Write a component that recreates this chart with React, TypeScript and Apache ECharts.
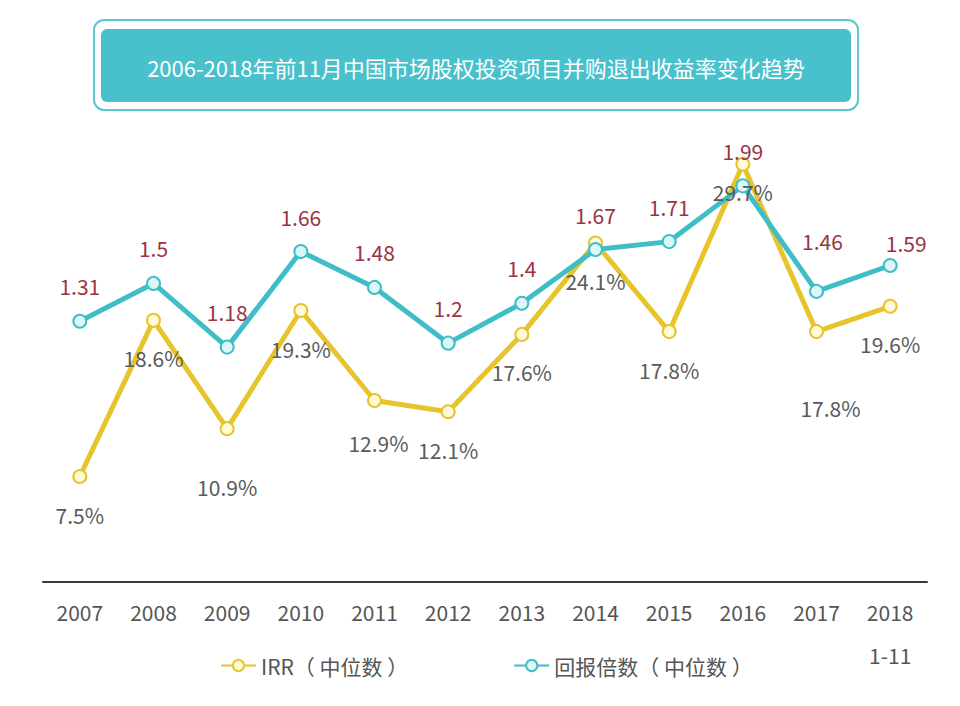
import React, { useEffect, useRef } from "react";
import * as echarts from "echarts";

const years = ["2007", "2008", "2009", "2010", "2011", "2012", "2013", "2014", "2015", "2016", "2017", "2018\n1-11"];
const irrValues = [7.5, 18.6, 10.9, 19.3, 12.9, 12.1, 17.6, 24.1, 17.8, 29.7, 17.8, 19.6];
const multipleValues = [1.31, 1.5, 1.18, 1.66, 1.48, 1.2, 1.4, 1.67, 1.71, 1.99, 1.46, 1.59];
const titleText = "2006-2018年前11月中国市场股权投资项目并购退出收益率变化趋势";
const irrName = "IRR（ 中位数 ）";
const multipleName = "回报倍数（ 中位数 ）";

const YELLOW = "#E8C42C";
const TEAL = "#3FBEC7";
const FONT = "'Noto Sans CJK SC', 'Noto Sans', sans-serif";

export default function App() {
  const ref = useRef<HTMLDivElement>(null);
  useEffect(() => {
    if (!ref.current) return;
    const chart = echarts.init(ref.current, undefined, { renderer: "svg" });
    const irrOffsets: Record<number, number[]> = { 2: [0, 20], 4: [4, 4], 9: [0, -10], 10: [14, 38] };
    const mulOffsets: Record<number, number[]> = { 10: [6, -15], 11: [16, 12] };
    chart.setOption({
      animation: false,
      backgroundColor: "#ffffff",
      textStyle: { fontFamily: FONT },
      graphic: [
        {
          type: "rect",
          shape: { x: 94, y: 20, width: 764, height: 90, r: 10 },
          style: { fill: "#ffffff", stroke: "#5CC7CF", lineWidth: 2 },
        },
        {
          type: "rect",
          shape: { x: 101, y: 29, width: 750, height: 73, r: 6 },
          style: { fill: "#48C1CC" },
        },
        {
          type: "text",
          x: 476,
          y: 67,
          style: {
            text: titleText,
            fill: "#ffffff",
            fontSize: 22,
            fontFamily: FONT,
            align: "center",
            verticalAlign: "middle",
          },
        },
      ],
      legend: {
        left: 215,
        top: 650,
        itemWidth: 35,
        itemHeight: 14,
        itemGap: 105,
        textStyle: { fontSize: 21, color: "#555555", fontFamily: FONT },
        data: [irrName, multipleName],
      },
      grid: { left: 43, right: 33, top: 160, bottom: 124 },
      xAxis: {
        type: "category",
        data: years,
        boundaryGap: true,
        axisLine: { lineStyle: { color: "#3a3a3a", width: 2 } },
        axisTick: { show: false },
        axisLabel: {
          color: "#555555",
          fontSize: 21,
          lineHeight: 43,
          margin: 8,
          fontFamily: FONT,
        },
      },
      yAxis: [
        { type: "value", min: 0, max: 30, show: false, splitLine: { show: false } },
        { type: "value", min: 0, max: 2.12, show: false, splitLine: { show: false } },
      ],
      series: [
        {
          name: irrName,
          type: "line",
          yAxisIndex: 0,
          data: irrValues.map((v, i) => ({
            value: v,
            label: irrOffsets[i] ? { offset: irrOffsets[i] } : undefined,
          })),
          symbol: "circle",
          symbolSize: 13,
          lineStyle: { color: YELLOW, width: 5 },
          itemStyle: { color: "#FFFBD8", borderColor: YELLOW, borderWidth: 2 },
          label: {
            show: true,
            position: "bottom",
            distance: 20,
            formatter: "{c}%",
            color: "#5a5a5a",
            fontSize: 21,
            fontFamily: FONT,
          },
        },
        {
          name: multipleName,
          type: "line",
          yAxisIndex: 1,
          data: multipleValues.map((v, i) => ({
            value: v,
            label: mulOffsets[i] ? { offset: mulOffsets[i] } : undefined,
          })),
          symbol: "circle",
          symbolSize: 13,
          lineStyle: { color: TEAL, width: 5 },
          itemStyle: { color: "#DDF6F8", borderColor: TEAL, borderWidth: 2 },
          label: {
            show: true,
            position: "top",
            distance: 17,
            color: "#9A3344",
            fontSize: 21,
            fontFamily: FONT,
          },
        },
      ],
    });
    return () => chart.dispose();
  }, []);
  return <div ref={ref} style={{ position: "fixed", left: 0, top: 0, width: 960, height: 706 }} />;
}
